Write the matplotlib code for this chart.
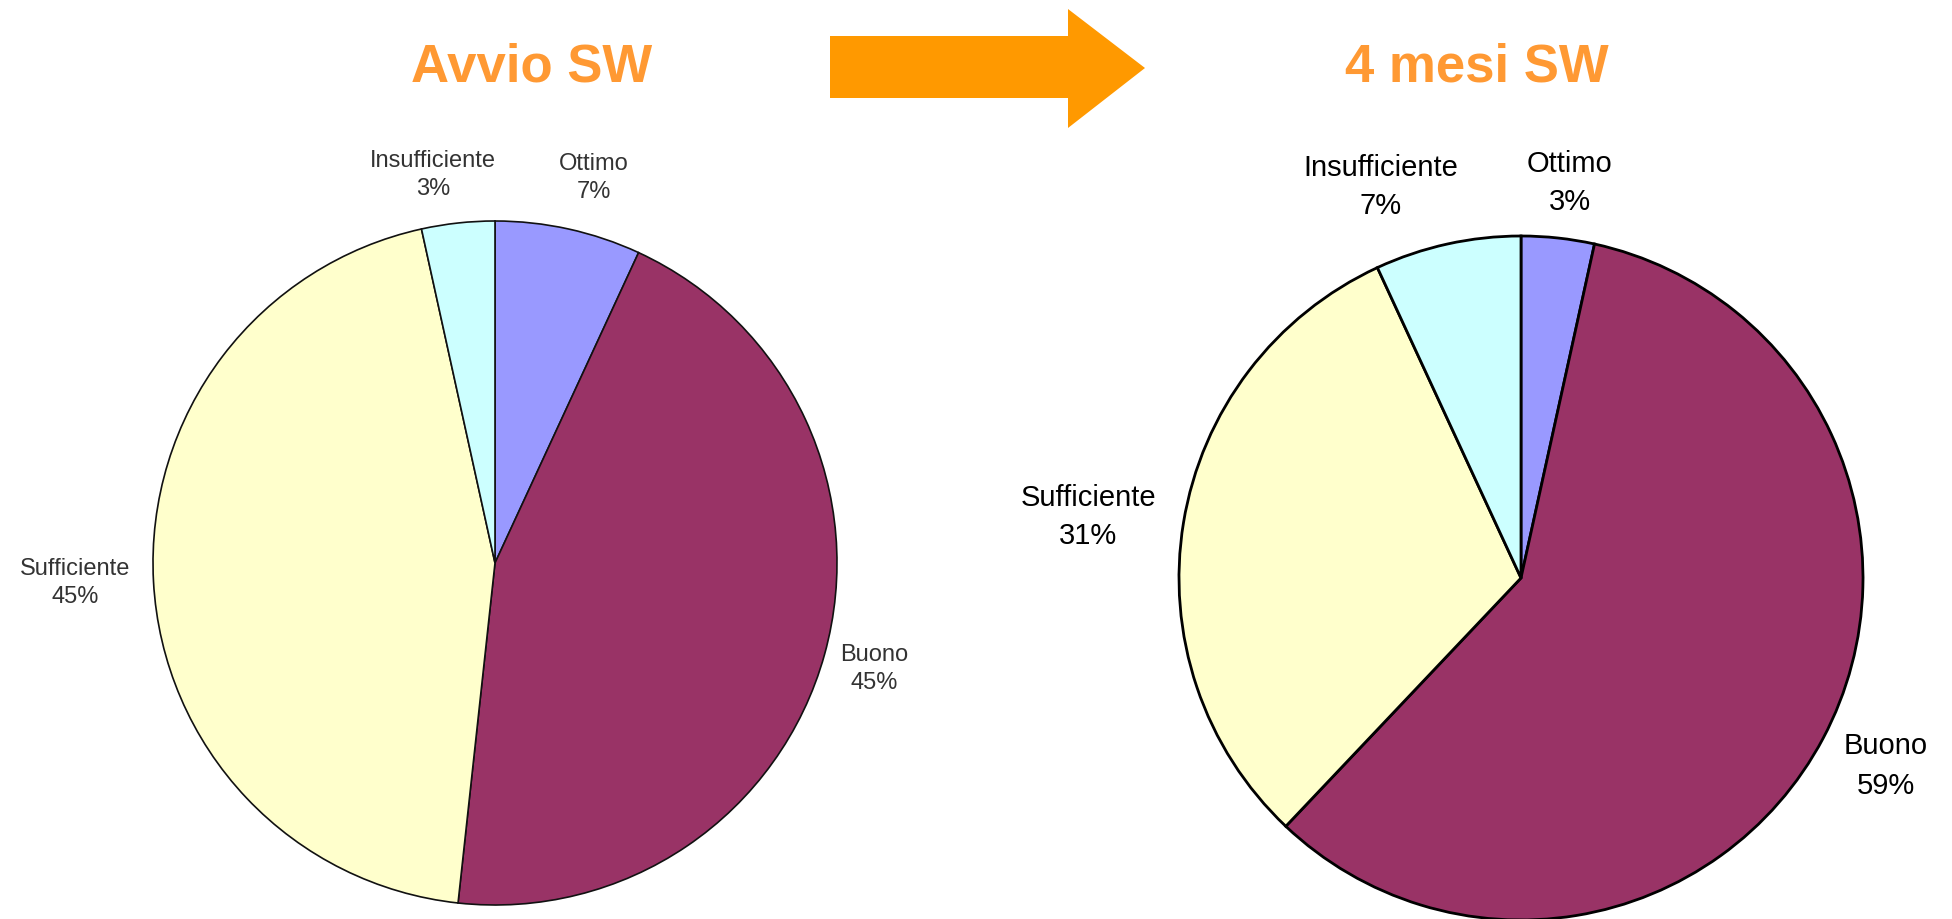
import matplotlib
matplotlib.use("Agg")
import matplotlib.pyplot as plt
from matplotlib.patches import Polygon

W, H = 1952, 919

categories = ["Ottimo", "Buono", "Sufficiente", "Insufficiente"]
avvio_counts = [2, 13, 13, 1]
mesi4_counts = [1, 17, 9, 2]
colors = ["#9999FF", "#993366", "#FFFFCC", "#CCFFFF"]
titles = ["Avvio SW", "4 mesi SW"]

fig = plt.figure(figsize=(W / 100, H / 100), dpi=100)
ax = fig.add_axes([0, 0, 1, 1])
ax.set_xlim(0, W)
ax.set_ylim(0, H)
ax.set_aspect("equal")
ax.axis("off")

def Y(y):
    return H - y

# Left pie
ax.pie(avvio_counts, colors=colors, startangle=90, counterclock=False,
       center=(495, Y(563)), radius=342,
       wedgeprops=dict(edgecolor="#111111", linewidth=1.2))
# Right pie
ax.pie(mesi4_counts, colors=colors, startangle=90, counterclock=False,
       center=(1521, Y(578)), radius=342,
       wedgeprops=dict(edgecolor="black", linewidth=2.0))
ax.set_xlim(0, W)
ax.set_ylim(0, H)

left_pos = {"Ottimo": (594, 178), "Buono": (874, 669),
            "Sufficiente": (75, 583), "Insufficiente": (433, 175)}
right_pos = {"Ottimo": (1570, 183), "Buono": (1886, 766),
             "Sufficiente": (1088, 517), "Insufficiente": (1381, 187)}

tot_a = sum(avvio_counts)
tot_m = sum(mesi4_counts)
for cat, v in zip(categories, avvio_counts):
    x, y = left_pos[cat]
    ax.text(x, Y(y), f"{cat}\n{round(100 * v / tot_a)}%", ha="center", va="center",
            fontsize=17, family="Liberation Sans", color="#333333",
            linespacing=1.35)
for cat, v in zip(categories, mesi4_counts):
    x, y = right_pos[cat]
    ax.text(x, Y(y), f"{cat}\n{round(100 * v / tot_m)}%", ha="center", va="center",
            fontsize=21, family="Liberation Sans", color="black",
            linespacing=1.5)

title_color = "#FF9933"
ax.text(532, Y(68), titles[0], ha="center", va="center", fontsize=38,
        fontweight="bold", family="Liberation Sans", color=title_color)
ax.text(1477, Y(68), titles[1], ha="center", va="center", fontsize=38,
        fontweight="bold", family="Liberation Sans", color=title_color)

# Arrow
arrow = Polygon([(830, Y(36)), (1068, Y(36)), (1068, Y(9)), (1145, Y(68)),
                 (1068, Y(128)), (1068, Y(98)), (830, Y(98))],
                closed=True, facecolor="#FF9900", edgecolor="none")
ax.add_patch(arrow)

fig.savefig("out.png", dpi=100)
